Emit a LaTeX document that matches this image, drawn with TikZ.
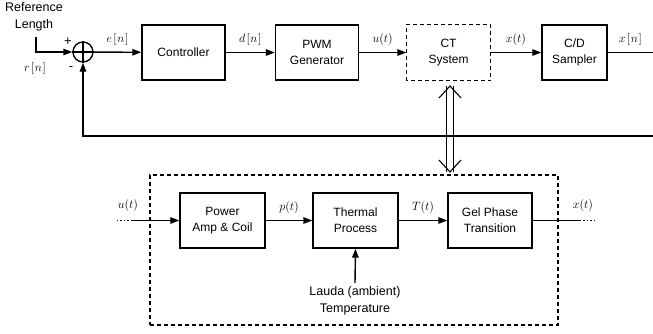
\documentclass[tikz,border=0pt]{standalone}
\usepackage{fontspec}
\setmainfont{Liberation Sans}
\usetikzlibrary{arrows.meta}
\tikzset{
  blk/.style={draw,line width=1.4pt,minimum width=83pt,minimum height=55pt,align=center,inner sep=0pt,font=\fontsize{12}{16}\selectfont},
  dbox/.style={draw,line width=1.3pt,dash pattern=on 4pt off 3pt},
  sig/.style={line width=1.4pt,-{Triangle[length=9pt,width=6.5pt]}},
  wire/.style={line width=1.4pt},
  lbl/.style={font=\fontsize{13}{15}\selectfont},
  txt/.style={align=center,font=\fontsize{12.5}{17}\selectfont}
}
\newcommand{\sq}[2]{#1\mkern2mu[\mkern1mu#2\mkern1mu]}
\begin{document}
\begin{tikzpicture}[x=1pt,y=-1pt]
\useasboundingbox (0,0) rectangle (653,333);
% upper loop
\node[txt] (reflbl) at (34,17) {Reference\\Length};
\coordinate (ref) at (36,37);
\node[draw,circle,line width=1.4pt,minimum size=20pt,inner sep=0pt] (sum) at (83,52) {};
\draw[wire] (sum.north)--(sum.south) (sum.west)--(sum.east);
\node[blk] (ctrl) at (183.5,52.5) {Controller};
\node[blk] (pwm) at (317,52.5) {PWM\\Generator};
\node[blk,draw=none] (ct) at (448.5,52.5) {CT\\System};
\draw[dbox] (ct.south west) rectangle (ct.north east);
\node[blk,minimum width=65pt] (cd) at (574.5,52.5) {C/D\\Sampler};
\coordinate (outr) at (653,52.5);\coordinate (fbr) at (653,136);
\draw[sig] (ref) |- (sum.west);
\node[lbl] (rlbl) at (35,68) {$\sq{r}{n}$};\node[lbl] (plus) at (68,42) {+};\node[lbl] (minus) at (71,69) {-};
\draw[sig] (sum) -- (ctrl) node[lbl,midway,above=3pt] {$\sq{e}{n}$};
\draw[sig] (ctrl) -- (pwm) node[lbl,midway,above=3pt] {$\sq{d}{n}$};
\draw[sig] (pwm) -- (ct) node[lbl,midway,above=3pt] {$u(t)$};
\draw[sig] (ct) -- (cd) node[lbl,midway,above=3pt] {$x(t)$};
\draw[wire] (cd) -- (outr) node[lbl,midway,above=3pt] {$\sq{x}{n}$};
\draw[sig] (fbr) -| (sum.south);
% inner model
\node[dbox,minimum width=408pt,minimum height=150pt,inner sep=0pt] (sub) at (354,250) {};
\coordinate (dtop) at (450,86);\coordinate (dbot) at (450,172);
\draw[line width=1.1pt] ([xshift=-3.3pt]dtop) -- ([xshift=-3.3pt]dbot) ([xshift=3.3pt]dtop) -- ([xshift=3.3pt]dbot);
\draw[line width=1.1pt] ([shift={(-11,12)}]dtop) -- (dtop) -- ([shift={(11,12)}]dtop);
\draw[line width=1.1pt] ([shift={(-11,-12)}]dbot) -- (dbot) -- ([shift={(11,-12)}]dbot);
\node[blk,minimum width=85pt] (amp) at (222.5,220.5) {Power\\Amp \& Coil};
\node[blk,minimum width=85pt] (therm) at (355.5,220.5) {Thermal\\Process};
\node[blk,minimum width=84pt] (gel) at (490,220.5) {Gel Phase\\Transition};
\coordinate (uin) at (117,220.5);\coordinate (uin2) at (131,220.5);
\coordinate (xo) at (580,220.5);\coordinate (xo2) at (595,220.5);
\draw[wire,dotted] (uin) -- (uin2);\draw[sig] (uin2) -- (amp);
\node[lbl] (ulbl) at (128,205) {$u(t)$};
\draw[sig] (amp) -- (therm) node[lbl,midway,above=3pt] {$p(t)$};
\draw[sig] (therm) -- (gel) node[lbl,midway,above=3pt] {$T(t)$};
\draw[wire] (gel) -- (xo);\draw[wire,dotted] (xo) -- (xo2);
\node[lbl] (xlbl) at (583,205) {$x(t)$};
\node[txt] (lauda) at (355,301) {Lauda (ambient)\\Temperature};
\draw[sig] (lauda.north) -- (therm.south);
\end{tikzpicture}
\end{document}
